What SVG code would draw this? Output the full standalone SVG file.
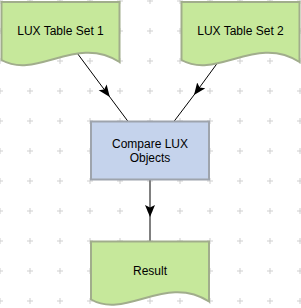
<svg xmlns="http://www.w3.org/2000/svg" width="301" height="308" viewBox="0 0 301 308">
  <defs>
    <pattern id="grid" patternUnits="userSpaceOnUse" x="-15" y="-14" width="30" height="30">
      <path d="M15,12 V18 M12,15 H18" stroke="#cfcfcf" stroke-width="1" fill="none"/>
    </pattern>
    <marker id="arrow" markerUnits="userSpaceOnUse" markerWidth="14" markerHeight="12" refX="12" refY="5" orient="auto">
      <path d="M0,0 L12,5 L0,10 L2.5,5 Z" fill="#000"/>
    </marker>
    <path id="doc" d="M0,0 H118 V60 C75,32 35,78 0,58 Z"/>
  </defs>
  <style>
    .doc { fill: #c6e89b; stroke: #a1ad8c; stroke-width: 2; }
    .proc { fill: #c5d3ec; stroke: #9ea4ad; stroke-width: 2; }
    .lbl { font-family: "Liberation Sans", Arial, sans-serif; font-size: 12px; fill: #000; text-anchor: middle; }
    .conn { fill: none; stroke: #000; stroke-width: 1; marker-mid: url(#arrow); }
    .conn2 { fill: none; stroke: #808080; stroke-width: 2; marker-mid: url(#arrow); }
  </style>
  <rect width="301" height="308" fill="#fff"/>
  <rect width="301" height="308" fill="url(#grid)"/>
  <g id="connectors">
    <path class="conn" d="M77.3,53.3 L109.8,97 L127.7,121"/>
    <path class="conn" d="M216.7,64 L194,95 L174.3,121"/>
    <path class="conn2" d="M150,180 L150,217 L150,241"/>
  </g>
  <g id="set1">
    <use href="#doc" class="doc" transform="translate(1.5,2)"/>
    <text class="lbl" x="60.5" y="35">LUX Table Set 1</text>
  </g>
  <g id="set2">
    <use href="#doc" class="doc" transform="translate(181.5,2)"/>
    <text class="lbl" x="240.5" y="35">LUX Table Set 2</text>
  </g>
  <g id="compare">
    <rect class="proc" x="91" y="121.5" width="118" height="58"/>
    <text class="lbl" x="150" y="147.5">Compare LUX</text>
    <text class="lbl" x="150" y="161.5">Objects</text>
  </g>
  <g id="result">
    <use href="#doc" class="doc" transform="translate(91,241.5)"/>
    <text class="lbl" x="150" y="275">Result</text>
  </g>
</svg>
